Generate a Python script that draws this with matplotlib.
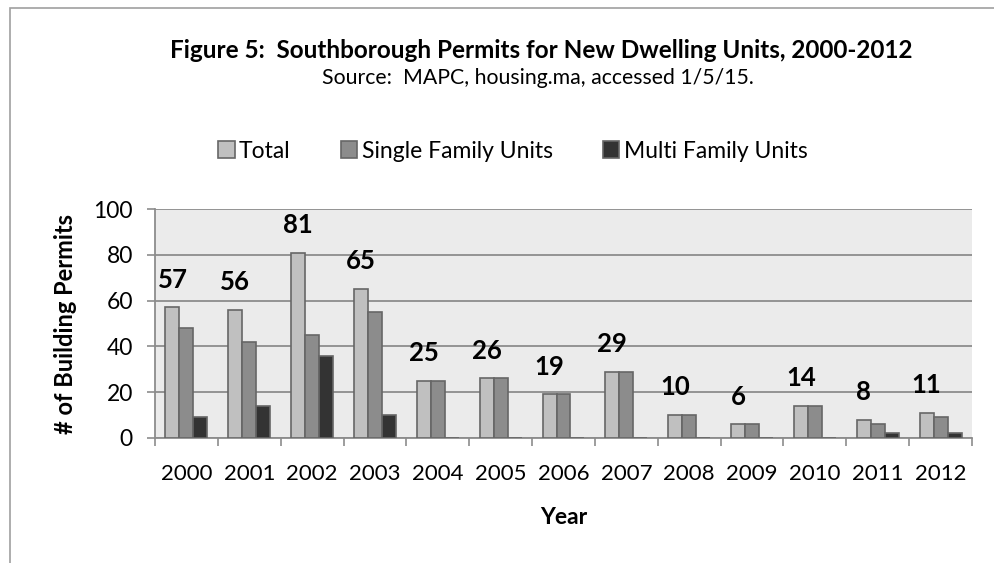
import matplotlib
matplotlib.use("Agg")
import matplotlib.pyplot as plt
import numpy as np
from matplotlib.patches import Rectangle, Patch

years = ["2000", "2001", "2002", "2003", "2004", "2005", "2006",
         "2007", "2008", "2009", "2010", "2011", "2012"]
total = [57, 56, 81, 65, 25, 26, 19, 29, 10, 6, 14, 8, 11]
single = [48, 42, 45, 55, 25, 26, 19, 29, 10, 6, 14, 6, 9]
multi = [9, 14, 36, 10, 0, 0, 0, 0, 0, 0, 0, 2, 2]
series_names = ["Total", "Single Family Units", "Multi Family Units"]
colors = ["#c0c0c0", "#8c8c8c", "#333333"]

plt.rcParams['font.family'] = ['Lato', 'DejaVu Sans']

W, H = 994, 563
fig = plt.figure(figsize=(W / 100, H / 100), dpi=100)

# outer chart border
fig.patches.append(Rectangle((10 / W, -0.1), 1.2, 1 - 8 / H + 0.1,
                             transform=fig.transFigure, fill=False,
                             edgecolor="#a0a0a0", linewidth=1.2))

l, r, t, b = 155, 972, 209, 438
ax = fig.add_axes([l / W, 1 - b / H, (r - l) / W, (b - t) / H])
ax.set_facecolor("#ebebeb")

x = np.arange(len(years))
bw = 0.222
for i, (vals, c) in enumerate(zip([total, single, multi], colors)):
    ax.bar(x + (i - 1) * bw, vals, width=bw, color=c, edgecolor="#666666",
           linewidth=1.2, zorder=3, label=series_names[i])

for xi, v in zip(x, total):
    ax.text(xi - bw, v + 8.6, str(v), ha="center", va="baseline",
            fontsize=18.5, fontweight="bold", color="black")

ax.set_xlim(-0.5, len(years) - 0.5)
ax.set_ylim(0, 100)
ax.set_yticks([0, 20, 40, 60, 80, 100])
ax.yaxis.grid(True, color="#8c8c8c", linewidth=1.3, zorder=0)
ax.set_axisbelow(True)
ax.set_xticks(np.arange(-0.5, len(years), 1.0))
ax.set_xticklabels([])
ax.set_xticks(x, minor=True)
ax.set_xticklabels(years, minor=True)
ax.tick_params(axis="x", which="major", length=6, width=1.2, color="#8c8c8c", direction="out")
ax.tick_params(axis="x", which="minor", length=0, labelsize=16, pad=19)
ax.tick_params(axis="y", length=6, width=1.2, color="#8c8c8c", labelsize=16.5, pad=10)
for s in ["top", "right"]:
    ax.spines[s].set_visible(False)
for s in ["left", "bottom"]:
    ax.spines[s].set_color("#8c8c8c")
    ax.spines[s].set_linewidth(1.3)

ax.set_ylabel("# of Building Permits", fontsize=17, fontweight="bold", labelpad=12)
ax.set_xlabel("Year", fontsize=16.5, fontweight="bold", labelpad=16)

tx = 541 / W
fig.text(tx, 1 - 50 / H, "Figure 5:  Southborough Permits for New Dwelling Units, 2000-2012",
         ha="center", va="center", fontsize=17.5, fontweight="bold")
fig.text(tx - 3 / W, 1 - 78 / H, "Source:  MAPC, housing.ma, accessed 1/5/15.",
         ha="center", va="center", fontsize=15.3)

handles = [Patch(facecolor=c, edgecolor="#666666", linewidth=1.2) for c in colors]
fig.legend(handles, series_names, loc="center", bbox_to_anchor=(513 / W, 1 - 151 / H),
           ncol=3, frameon=False, fontsize=16.5, handlelength=0.7, handleheight=0.7,
           handletextpad=0.2, columnspacing=2.2)

fig.savefig("out.png", dpi=100)
